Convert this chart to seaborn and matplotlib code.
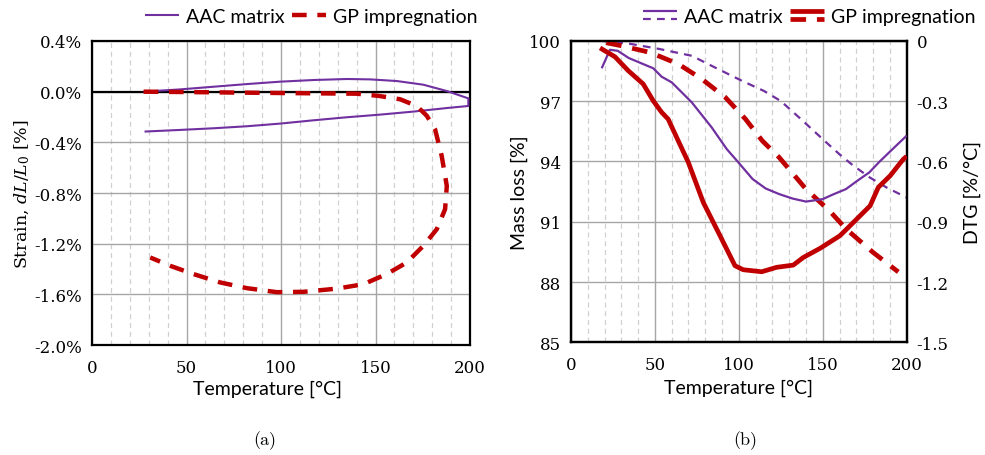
import numpy as np
import pandas as pd
import matplotlib
matplotlib.use("Agg")
import matplotlib.pyplot as plt
import seaborn as sns
from matplotlib.legend_handler import HandlerBase
from matplotlib.lines import Line2D
from matplotlib.ticker import MultipleLocator, FixedLocator

# ---------------- data ----------------
# (a) dilatometry: heating/cooling loops, temperature [°C] vs strain [%]
aac_strain_temp = [27.3, 46.7, 64.3, 82.0, 99.6, 117.2, 134.8, 147.1, 161.2, 175.3, 187.7, 199.1,
                   199.1, 188.5, 170.2, 152.6, 134.8, 117.2, 99.6, 82.0, 64.3, 46.7, 27.8]
aac_strain = [0.0, 0.018, 0.039, 0.060, 0.079, 0.092, 0.100, 0.097, 0.084, 0.055, 0.005, -0.053,
              -0.113, -0.128, -0.157, -0.181, -0.202, -0.226, -0.252, -0.273, -0.289, -0.302, -0.315]

gp_strain_temp = [27.3, 50.0, 82.0, 110.0, 140.0, 152.0, 163.0, 171.8, 177.1, 181.5, 185.0, 187.7,
                  186.8, 182.4, 175.3, 166.5, 155.9, 143.6, 129.5, 111.9, 97.8, 81.9, 67.8, 53.7,
                  41.4, 30.8]
gp_strain = [0.0, -0.003, -0.008, -0.012, -0.016, -0.034, -0.060, -0.113, -0.190, -0.297, -0.507,
             -0.744, -0.928, -1.086, -1.217, -1.349, -1.440, -1.520, -1.555, -1.580, -1.583,
             -1.551, -1.506, -1.440, -1.375, -1.309]

# (b) thermogravimetry: mass loss [%] and its derivative DTG [%/°C]
aac_tg_temp = [18, 35, 52, 72, 85, 102, 115, 125, 137, 152, 160, 168, 178, 188, 200]
aac_tg = [100.0, 99.85, 99.6, 99.25, 98.7, 98.0, 97.5, 97.0, 96.1, 94.95, 94.35, 93.8, 93.2, 92.7, 92.2]

gp_tg_temp = [21, 30, 47, 64, 78, 92, 104, 114, 124, 140, 154, 164, 180, 195]
gp_tg = [99.9, 99.75, 99.42, 98.84, 98.09, 97.18, 96.1, 95.02, 94.2, 92.62, 91.54, 90.63, 89.47, 88.5]

aac_dtg_temp = [18.3, 23.2, 27.8, 34.4, 42.1, 49.0, 54.0, 60.0, 71.9, 83.8, 92.8, 99.7, 108.2, 116.0,
                124.1, 132.0, 140.0, 149.9, 156.0, 163.8, 170.0, 177.7, 184.0, 191.6, 200.0]
aac_dtg = [-0.137, -0.045, -0.050, -0.086, -0.113, -0.137, -0.179, -0.207, -0.306, -0.431, -0.539,
           -0.605, -0.688, -0.735, -0.763, -0.785, -0.800, -0.788, -0.765, -0.738, -0.700, -0.655,
           -0.600, -0.539, -0.472]

gp_dtg_temp = [17.3, 26.2, 34.1, 43.0, 49.0, 54.0, 57.9, 63.9, 69.9, 78.8, 88.8, 97.7, 102.6, 113.6,
               122.5, 132.4, 138.4, 148.3, 160.2, 168.2, 178.2, 183.1, 190.1, 198.0, 200.0]
gp_dtg = [-0.036, -0.080, -0.149, -0.215, -0.299, -0.356, -0.390, -0.498, -0.605, -0.804, -0.970,
          -1.119, -1.139, -1.149, -1.127, -1.116, -1.078, -1.033, -0.970, -0.904, -0.821, -0.729,
          -0.672, -0.589, -0.575]

strain_ticks = [-2.0, -1.6, -1.2, -0.8, -0.4, 0.0, 0.4]
mass_ticks = [85, 88, 91, 94, 97, 100]
dtg_ticks = [-1.5, -1.2, -0.9, -0.6, -0.3, 0.0]
temp_ticks = [0, 50, 100, 150, 200]

series_names = ["AAC matrix", "GP impregnation"]
panel_tags = ["(a)", "(b)"]

PURPLE = "#7030A0"
RED = "#C00000"
SERIF = "DejaVu Serif"
SANS = ["Lato", "DejaVu Sans"]
LABEL_FS = 14
TICK_FS = 12

# ---------------- style ----------------
sns.set_theme(style="white")
plt.rcParams["font.family"] = SANS
plt.rcParams["font.size"] = 12
plt.rcParams["text.color"] = "black"
plt.rcParams["axes.labelcolor"] = "black"
plt.rcParams["xtick.color"] = "black"
plt.rcParams["ytick.color"] = "black"
plt.rcParams["mathtext.fontset"] = "custom"
plt.rcParams["mathtext.rm"] = SERIF
plt.rcParams["mathtext.it"] = SERIF + ":italic"

fig = plt.figure(figsize=(9.85, 4.56), dpi=100)
ax1 = fig.add_axes([0.0934, 0.2412, 0.3838, 0.6667])
ax2 = fig.add_axes([0.5797, 0.2471, 0.3408, 0.6614])
ax2b = ax2.twinx()


def line(ax, x, y, color, lw, dashes=None, z=3):
    df = pd.DataFrame({"T": x, "v": y})
    sns.lineplot(data=df, x="T", y="v", ax=ax, sort=False, estimator=None,
                 color=color, linewidth=lw, zorder=z)
    ln = ax.lines[-1]
    if dashes is not None:
        ln.set_dashes(dashes)
        ln.set_dash_capstyle("butt")
    ln.set_solid_capstyle("butt")
    ln.set_solid_joinstyle("round")
    return ln


def style_axes(ax):
    ax.xaxis.set_minor_locator(MultipleLocator(10))
    ax.grid(which="major", axis="x", color="#a6a6a6", lw=1.0, ls="-", zorder=0)
    ax.grid(which="minor", axis="x", color="#d0d0d0", lw=0.9, ls=(0, (4, 3)), zorder=0)
    ax.grid(which="major", axis="y", color="#a6a6a6", lw=1.0, ls="-", zorder=0)
    ax.tick_params(which="both", length=0, pad=7, labelsize=TICK_FS, colors="black",
                   labelfontfamily=SERIF)
    ax.tick_params(axis="x", pad=10)
    for s in ax.spines.values():
        s.set_color("black")
        s.set_linewidth(1.6)


# ---------------- (a) strain ----------------
l_aac = line(ax1, aac_strain_temp, aac_strain, PURPLE, 1.5)
l_gp = line(ax1, gp_strain_temp, gp_strain, RED, 3.2, dashes=(3.3, 2.4))
ax1.axhline(0, color="black", lw=1.6, zorder=2)
ax1.set_xlim(0, 200)
ax1.set_ylim(-2.0, 0.4)
ax1.set_xticks(temp_ticks)
ax1.yaxis.set_major_locator(FixedLocator(strain_ticks))
ax1.set_yticklabels([f"{v:.1f}%" for v in strain_ticks])
style_axes(ax1)
ax1.set_xlabel("Temperature [°C]", fontsize=LABEL_FS, labelpad=4)
ax1.xaxis.set_label_coords(0.465, -0.115)
ax1.set_ylabel(r"Strain, $dL/L_0$ [%]", fontsize=12.5, labelpad=2, family=SERIF)

# ---------------- (b) TG / DTG ----------------
t_aac = line(ax2, aac_tg_temp, aac_tg, PURPLE, 1.6, dashes=(3.5, 2.8), z=3)
t_gp = line(ax2, gp_tg_temp, gp_tg, RED, 3.4, dashes=(3.3, 2.3), z=3)
d_aac = line(ax2b, aac_dtg_temp, aac_dtg, PURPLE, 1.6)
d_gp = line(ax2b, gp_dtg_temp, gp_dtg, RED, 3.4)
ax2.set_xlim(0, 200)
ax2.set_ylim(85, 100)
ax2b.set_ylim(-1.5, 0)
ax2.set_xticks(temp_ticks)
ax2.yaxis.set_major_locator(FixedLocator(mass_ticks))
ax2.set_yticklabels([str(v) for v in mass_ticks])
ax2b.yaxis.set_major_locator(FixedLocator(dtg_ticks))
ax2b.set_yticklabels(["0" if v == 0 else f"{v:.1f}" for v in dtg_ticks])
style_axes(ax2)
ax2b.tick_params(length=0, pad=7, labelsize=TICK_FS, colors="black",
                 labelfontfamily=SERIF)
for s in ax2b.spines.values():
    s.set_color("black")
    s.set_linewidth(1.6)
ax2.set_xlabel("Temperature [°C]", fontsize=LABEL_FS, labelpad=4)
ax2.set_ylabel("Mass loss [%]", fontsize=LABEL_FS, labelpad=1)
ax2b.set_ylabel("DTG [%/°C]", fontsize=LABEL_FS, labelpad=11)

for a in (ax1, ax2, ax2b):
    if a.get_legend() is not None:
        a.get_legend().remove()


# ---------------- legends ----------------
class Pair:
    def __init__(self, *lines):
        self.lines = lines


class StackedHandler(HandlerBase):
    def create_artists(self, legend, orig_handle, xdescent, ydescent, width,
                       height, fontsize, trans):
        arts = []
        n = len(orig_handle.lines)
        gap = 5.5
        mid = (height - ydescent) / 2
        for i, src in enumerate(orig_handle.lines):
            y = mid + gap * ((n - 1) / 2 - i)
            ln = Line2D([-xdescent, width - xdescent], [y, y])
            ln.update_from(src)
            ln.set_clip_on(False)
            ln.set_clip_box(None)
            ln.set_clip_path(None)
            ln.set_transform(trans)
            arts.append(ln)
        return arts


leg_kw = dict(handler_map={Pair: StackedHandler()}, loc="center", ncol=2,
              frameon=False, fontsize=LABEL_FS, handlelength=1.75,
              handletextpad=0.35, columnspacing=0.4, borderpad=0)
fig.legend([Pair(l_aac), Pair(l_gp)], series_names,
           bbox_to_anchor=(0.316, 0.962), **leg_kw)
fig.legend([Pair(d_aac, t_aac), Pair(d_gp, t_gp)], series_names,
           bbox_to_anchor=(0.8215, 0.962), **leg_kw)

# ---------------- panel tags ----------------
for tag, xc in zip(panel_tags, (265, 745)):
    fig.text(xc / 985, 1 - 441 / 456, tag, ha="center", va="center",
             family="cmr10", fontsize=13, color="black")

fig.savefig("out.png", dpi=100)
